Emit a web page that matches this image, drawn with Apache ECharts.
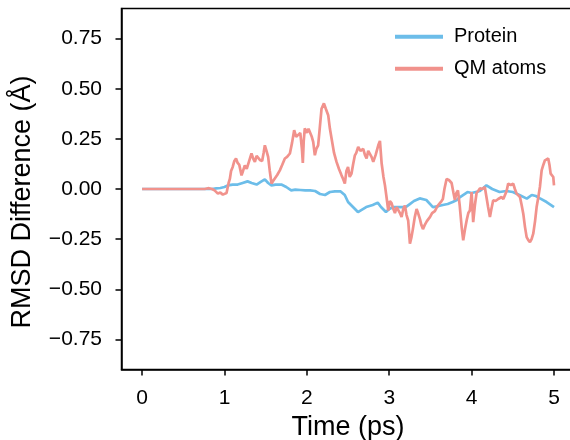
<!DOCTYPE html>
<html>
<head>
<meta charset="utf-8">
<script src="https://cdn.jsdelivr.net/npm/echarts@6/dist/echarts.min.js"></script>
<style>
html,body{margin:0;padding:0;background:#fff;}
#chart{width:570px;height:440px;}
</style>
</head>
<body>
<div id="chart"></div>
<script>
// ---- data ----
var seriesNames = ['Protein', 'QM atoms'];

var proteinTime = [0, 0.85, 0.9, 0.95, 1.0, 1.04, 1.1, 1.16, 1.22, 1.28, 1.33, 1.39, 1.44, 1.49, 1.53, 1.57, 1.62, 1.69, 1.75, 1.81, 1.86, 1.92, 1.98, 2.04, 2.1, 2.16, 2.22, 2.28, 2.34, 2.41, 2.46, 2.5, 2.56, 2.62, 2.68, 2.72, 2.8, 2.86, 2.9, 2.96, 3.0, 3.05, 3.12, 3.2, 3.25, 3.3, 3.37, 3.45, 3.53, 3.6, 3.65, 3.71, 3.77, 3.82, 3.86, 3.95, 4.0, 4.05, 4.1, 4.18, 4.25, 4.34, 4.42, 4.5, 4.58, 4.67, 4.73, 4.78, 4.83, 4.91, 5.0];
var proteinValues = [0, 0, 0.003, 0.005, 0.01, 0.018, 0.022, 0.022, 0.03, 0.038, 0.03, 0.022, 0.035, 0.048, 0.03, 0.018, 0.022, 0.022, 0.01, -0.007, -0.003, -0.005, -0.007, -0.007, -0.01, -0.025, -0.03, -0.015, -0.012, -0.012, -0.03, -0.065, -0.09, -0.115, -0.1, -0.09, -0.08, -0.068, -0.09, -0.115, -0.1, -0.09, -0.09, -0.09, -0.075, -0.06, -0.047, -0.055, -0.09, -0.085, -0.08, -0.075, -0.065, -0.055, -0.04, -0.015, -0.02, -0.015, -0.01, 0.018, 0.0, -0.015, -0.01, -0.015, -0.03, -0.048, -0.03, -0.035, -0.047, -0.065, -0.09];

var qmTime = [0, 0.76, 0.8, 0.82, 0.85, 0.88, 0.92, 0.95, 0.98, 1.0, 1.025, 1.05, 1.065, 1.08, 1.1, 1.12, 1.14, 1.16, 1.18, 1.207, 1.225, 1.247, 1.27, 1.3, 1.328, 1.35, 1.369, 1.39, 1.409, 1.43, 1.457, 1.475, 1.49, 1.51, 1.53, 1.55, 1.571, 1.59, 1.611, 1.64, 1.672, 1.7, 1.733, 1.76, 1.794, 1.82, 1.846, 1.87, 1.894, 1.92, 1.94, 1.951, 1.962, 1.975, 2.0, 2.02, 2.04, 2.06, 2.077, 2.097, 2.115, 2.137, 2.158, 2.178, 2.207, 2.23, 2.259, 2.28, 2.3, 2.33, 2.36, 2.39, 2.421, 2.44, 2.461, 2.48, 2.5, 2.52, 2.542, 2.56, 2.583, 2.6, 2.623, 2.65, 2.684, 2.705, 2.725, 2.745, 2.765, 2.785, 2.806, 2.835, 2.867, 2.887, 2.908, 2.93, 2.948, 2.97, 2.988, 3.008, 3.028, 3.05, 3.069, 3.09, 3.109, 3.13, 3.15, 3.17, 3.19, 3.21, 3.23, 3.251, 3.27, 3.287, 3.31, 3.332, 3.35, 3.373, 3.39, 3.409, 3.43, 3.457, 3.475, 3.494, 3.52, 3.554, 3.585, 3.615, 3.635, 3.651, 3.67, 3.696, 3.724, 3.757, 3.78, 3.797, 3.815, 3.834, 3.855, 3.879, 3.898, 3.92, 3.943, 3.96, 3.979, 4.0, 4.019, 4.04, 4.06, 4.08, 4.1, 4.13, 4.16, 4.18, 4.2, 4.222, 4.24, 4.262, 4.29, 4.323, 4.345, 4.364, 4.385, 4.404, 4.425, 4.444, 4.475, 4.505, 4.525, 4.546, 4.565, 4.587, 4.607, 4.627, 4.648, 4.668, 4.688, 4.708, 4.728, 4.748, 4.77, 4.789, 4.81, 4.829, 4.85, 4.87, 4.89, 4.91, 4.93, 4.945, 4.959, 4.975, 4.991, 5.0];
var qmValues = [0, 0, 0.004, 0.008, 0.0, -0.007, -0.023, -0.018, -0.028, -0.022, -0.02, 0.03, 0.05, 0.09, 0.11, 0.14, 0.152, 0.13, 0.12, 0.068, 0.09, 0.118, 0.1, 0.14, 0.177, 0.15, 0.135, 0.165, 0.16, 0.145, 0.14, 0.18, 0.218, 0.19, 0.16, 0.09, 0.027, 0.04, 0.043, 0.07, 0.093, 0.12, 0.152, 0.16, 0.177, 0.23, 0.293, 0.26, 0.252, 0.28, 0.2, 0.13, 0.24, 0.302, 0.28, 0.3, 0.3, 0.26, 0.235, 0.168, 0.2, 0.218, 0.31, 0.4, 0.427, 0.4, 0.368, 0.3, 0.252, 0.18, 0.135, 0.1, 0.068, 0.05, 0.027, 0.09, 0.11, 0.06, 0.077, 0.12, 0.168, 0.18, 0.21, 0.19, 0.2, 0.17, 0.152, 0.19, 0.193, 0.16, 0.135, 0.17, 0.218, 0.24, 0.127, 0.06, 0.018, -0.05, -0.107, -0.06, -0.07, -0.1, -0.12, -0.09, -0.082, -0.12, -0.14, -0.1, -0.082, -0.13, -0.157, -0.273, -0.24, -0.2, -0.14, -0.1, -0.12, -0.15, -0.18, -0.2, -0.18, -0.16, -0.15, -0.14, -0.12, -0.11, -0.085, -0.07, -0.06, -0.05, 0.0, 0.05, 0.045, 0.03, -0.02, -0.055, -0.02, -0.007, -0.08, -0.19, -0.256, -0.2, -0.15, -0.12, -0.107, -0.015, -0.165, -0.08, -0.02, -0.01, 0.003, 0.0, 0.01, -0.04, -0.09, -0.14, -0.1, -0.056, -0.06, -0.05, -0.045, -0.04, -0.05, -0.056, -0.01, 0.027, 0.02, 0.027, 0.0, -0.023, -0.03, -0.04, -0.08, -0.123, -0.19, -0.24, -0.255, -0.265, -0.25, -0.223, -0.16, -0.09, -0.04, 0.01, 0.093, 0.12, 0.143, 0.15, 0.152, 0.12, 0.077, 0.07, 0.06, 0.018];

var xTickValues = [0, 1, 2, 3, 4, 5];
var yTickValues = [-0.75, -0.5, -0.25, 0, 0.25, 0.5, 0.75];

// ---- chart ----
function pairs(t, v) {
  var out = [];
  for (var i = 0; i < t.length && i < v.length; i++) out.push([t[i], v[i]]);
  return out;
}
var FONT = 'Liberation Sans, Arial, sans-serif';
var chart = echarts.init(document.getElementById('chart'), null, {renderer: 'canvas'});
chart.setOption({
  animation: false,
  backgroundColor: '#fff',
  grid: {
    show: true, borderColor: '#000', borderWidth: 1.5, backgroundColor: 'transparent',
    left: 121.5, top: 8.5, right: -4.6, bottom: 70.5, containLabel: false,
    outerBoundsMode: 'none'
  },
  legend: {
    orient: 'vertical', left: 390, top: 20.7, itemGap: 10,
    itemWidth: 48, itemHeight: 4, icon: 'rect',
    data: seriesNames,
    textStyle: {fontFamily: FONT, fontSize: 20, color: '#000', lineHeight: 22, padding: [0, 0, 0, 6]}
  },
  xAxis: {
    type: 'value', min: -0.25, max: 5.25,
    name: 'Time (ps)', nameLocation: 'middle', nameGap: 45,
    nameTextStyle: {fontFamily: FONT, fontSize: 27, color: '#000'},
    axisLine: {show: true, onZero: false, lineStyle: {color: '#000', width: 1.5}},
    axisTick: {show: true, customValues: xTickValues, length: 6, lineStyle: {color: '#000', width: 1.5}},
    axisLabel: {customValues: xTickValues, fontFamily: FONT, fontSize: 21, color: '#000', margin: 18,
      formatter: function (v) { return String(v); }},
    splitLine: {show: false}
  },
  yAxis: {
    type: 'value', min: -0.9, max: 0.9,
    name: 'RMSD Difference (Å)', nameLocation: 'middle', nameGap: 85,
    nameTextStyle: {fontFamily: FONT, fontSize: 27, color: '#000', padding: [0, 26, 0, 0]},
    axisLine: {show: true, onZero: false, lineStyle: {color: '#000', width: 1.5}},
    axisTick: {show: true, customValues: yTickValues, length: 6, lineStyle: {color: '#000', width: 1.5}},
    axisLabel: {customValues: yTickValues, fontFamily: FONT, fontSize: 21, color: '#000', margin: 19.5,
      formatter: function (v) { return v.toFixed(2).replace('-', '\u2212'); }},
    splitLine: {show: false}
  },
  series: [
    {name: seriesNames[0], type: 'line', showSymbol: false, symbol: 'none',
     data: pairs(proteinTime, proteinValues), color: '#6cbde9',
     lineStyle: {color: '#6cbde9', width: 2.7}},
    {name: seriesNames[1], type: 'line', showSymbol: false, symbol: 'none',
     data: pairs(qmTime, qmValues), color: '#f1928c',
     lineStyle: {color: '#f1928c', width: 2.7}}
  ]
});
</script>
</body>
</html>
